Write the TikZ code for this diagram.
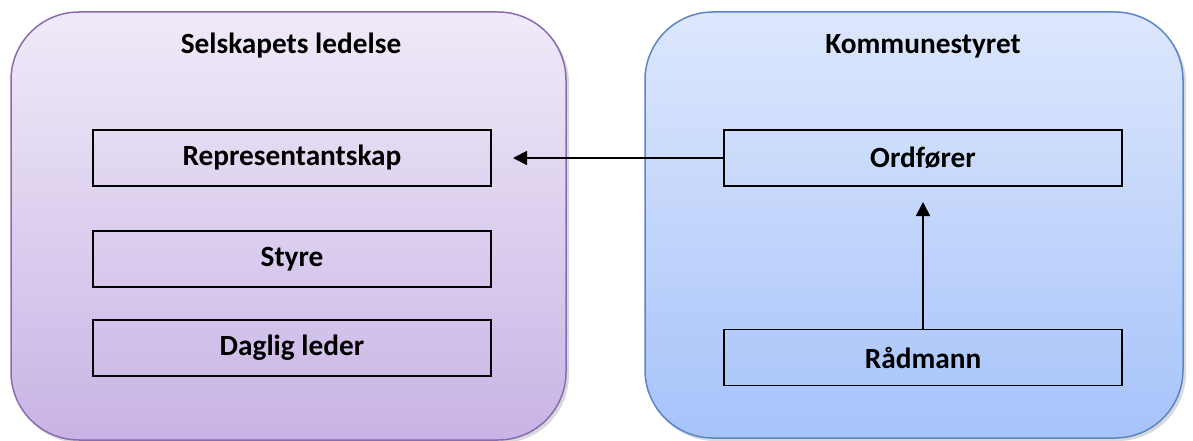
\documentclass[tikz,border=0pt]{standalone}
\usepackage{fontspec}
\setmainfont{Carlito}
\usetikzlibrary{arrows.meta}
\definecolor{lpTop}{HTML}{F0EAF8}
\definecolor{lpBot}{HTML}{C8B4E5}
\definecolor{lpBorder}{HTML}{8A6BB0}
\definecolor{rbTop}{HTML}{DDE7FC}
\definecolor{rbBot}{HTML}{A6C3FA}
\definecolor{rbBorder}{HTML}{5A86C4}
\tikzset{
  itembox/.style={draw=black, line width=1.8pt, minimum width=398pt, minimum height=56pt, inner sep=0pt,
    font=\fontsize{29.3}{35}\selectfont\bfseries},
  titletext/.style={inner sep=0pt, font=\fontsize{29.3}{35}\selectfont\bfseries},
  conn/.style={line width=1.8pt, -{Triangle[length=14pt,width=14pt]}}
}
\begin{document}
\begin{tikzpicture}[x=1pt,y=1pt]
\useasboundingbox (0,0) rectangle (1193,-441);
% shadows
\fill[black, opacity=0.15, rounded corners=68pt] (13,-15) rectangle (569,-443);
\fill[black, opacity=0.15, rounded corners=68pt] (647,-15) rectangle (1186,-441);
% containers
\shade[top color=lpTop, bottom color=lpBot, rounded corners=68pt] (11,-12) rectangle (566,-440);
\draw[lpBorder, line width=1.5pt, rounded corners=68pt] (11,-12) rectangle (566,-440);
\shade[top color=rbTop, bottom color=rbBot, rounded corners=68pt] (645,-12) rectangle (1183,-438);
\draw[rbBorder, line width=1.5pt, rounded corners=68pt] (645,-12) rectangle (1183,-438);
% titles
\node[titletext] (tl) at (291,-46) {Selskapets ledelse};
\node[titletext] (tr) at (923,-46) {Kommunestyret};
% boxes
\node[itembox] (rep) at (292,-158) {Representantskap};
\node[itembox] (sty) at (292,-259) {Styre};
\node[itembox] (dag) at (292,-348) {Daglig leder};
\node[itembox] (ord) at (923,-158) {Ordfører};
\node[itembox] (rad) at (923,-357.5) {Rådmann};
% connectors
\coordinate (a1) at (513,-158);
\coordinate (a2) at (923,-202);
\draw[conn] (ord.west) -- (a1);
\draw[conn] (rad.north) -- (a2);
\end{tikzpicture}
\end{document}
